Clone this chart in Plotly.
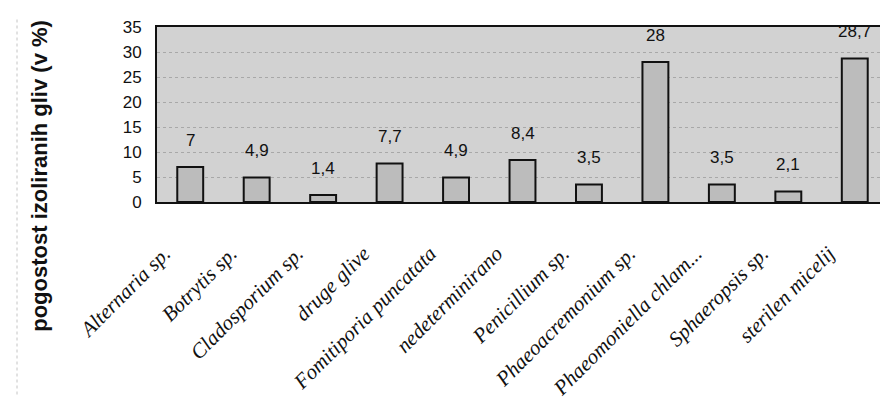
import plotly.graph_objects as go

categories = ["Alternaria sp.", "Botrytis sp.", "Cladosporium sp.", "druge glive",
              "Fomitiporia puncatata", "nedeterminirano", "Penicillium sp.",
              "Phaeoacremonium sp.", "Phaeomoniella chlam...", "Sphaeropsis sp.",
              "sterilen micelij"]
values = [7, 4.9, 1.4, 7.7, 4.9, 8.4, 3.5, 28, 3.5, 2.1, 28.7]
y_ticks = [0, 5, 10, 15, 20, 25, 30, 35]
y_title = "pogostost izoliranih gliv (v %)"

fig = go.Figure()
fig.add_trace(go.Bar(
    x=categories, y=values,
    marker=dict(color="#bcbcbc", line=dict(color="#111111", width=2)),
    width=0.39,
))

for c, v in zip(categories, values):
    fig.add_annotation(x=c, y=v, text=f"{v:g}".replace(".", ","), showarrow=False,
                       yanchor="middle", yshift=27,
                       font=dict(family="Liberation Sans, Arial", size=17, color="#111111"))

fig.add_annotation(xref="paper", yref="paper", x=-0.160, y=0.15, text=f"<b>{y_title}</b>",
                   textangle=-90, showarrow=False, xanchor="center", yanchor="middle",
                   font=dict(family="Liberation Sans, Arial", size=22, color="#111111"))

fig.add_shape(type="line", xref="paper", yref="paper", x0=-0.1915, x1=-0.1915, y0=-1.1, y1=1.05,
              line=dict(color="#c4c4c4", width=1, dash="dot"))

fig.update_layout(
    width=880, height=409,
    margin=dict(l=149, r=0, t=19, b=215),
    paper_bgcolor="white",
    plot_bgcolor="#d2d2d2",
    showlegend=False,
    xaxis=dict(
        tickangle=-45, automargin=False,
        tickfont=dict(family="Liberation Serif, Times New Roman", size=21, color="#111111"),
        showline=True, linecolor="#111111", linewidth=2, mirror=True,
        ticks="", ticklabelstandoff=29, ticklabelshift=-26,
        tickvals=categories, ticktext=[f"<i>{c}</i>" for c in categories],
    ),
    yaxis=dict(
        range=[0, 35], tickvals=y_ticks, automargin=False,
        tickfont=dict(family="Liberation Sans, Arial", size=17, color="#111111"),
        showline=True, linecolor="#111111", linewidth=2, mirror=True,
        showgrid=True, gridcolor="#a8a8a8", griddash="dot", gridwidth=1,
        zeroline=False, ticks="", ticklabelstandoff=10,
    ),
)

fig.write_html("out.html")
